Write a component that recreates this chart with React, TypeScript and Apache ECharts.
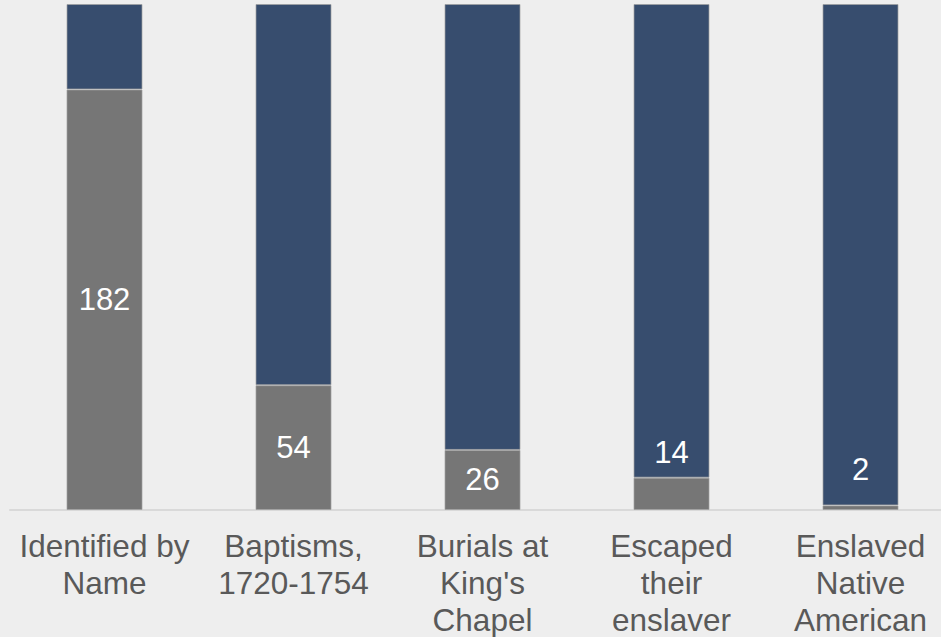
import React, { useEffect, useRef } from "react";
import * as echarts from "echarts";

const categories = [
  "Identified by\nName",
  "Baptisms,\n1720-1754",
  "Burials at\nKing's\nChapel",
  "Escaped\ntheir\nenslaver",
  "Enslaved\nNative\nAmerican",
];
const countValues = [182, 54, 26, 14, 2];
const remainderValues = [37, 165, 193, 205, 217];
const axisMax = 219;

const FONT = "Liberation Sans, Arial, sans-serif";

export default function App() {
  const ref = useRef<HTMLDivElement>(null);
  useEffect(() => {
    document.body.style.margin = "0";
    const chart = echarts.init(ref.current!, null, { renderer: "svg" });
    const labelDist = [0, 0, 0, 10, 20];
    chart.setOption({
      animation: false,
      backgroundColor: "#eeeeee",
      grid: {
        left: 10,
        width: 945,
        top: 4,
        bottom: 127,
        containLabel: false,
        outerBoundsMode: "none",
      },
      xAxis: {
        type: "category",
        data: categories,
        axisLine: { show: true, lineStyle: { color: "#d9d9d9", width: 2 } },
        axisTick: { show: false },
        axisLabel: {
          color: "#595959",
          fontFamily: FONT,
          fontSize: 31.5,
          lineHeight: 37,
          margin: 17,
          interval: 0,
          hideOverlap: false,
        },
      },
      yAxis: {
        type: "value",
        min: 0,
        max: axisMax,
        show: false,
        splitLine: { show: false },
      },
      series: [
        {
          type: "bar",
          stack: "total",
          barWidth: 76,
          z: 3,
          itemStyle: { color: "#767676", borderColor: "rgba(160,160,160,0.7)", borderWidth: 1 },
          data: countValues.map((v, i) => ({
            value: v,
            label:
              i >= 3
                ? { show: true, position: "top", distance: labelDist[i] }
                : { show: true, position: "inside" },
          })),
          label: {
            show: true,
            color: "#ffffff",
            fontFamily: FONT,
            fontSize: 31,
          },
        },
        {
          type: "bar",
          stack: "total",
          barWidth: 76,
          z: 2,
          itemStyle: { color: "#374d6e", borderColor: "rgba(160,160,160,0.7)", borderWidth: 1 },
          data: remainderValues,
        },
      ],
    });
    return () => chart.dispose();
  }, []);
  return <div ref={ref} style={{ width: 941, height: 637 }} />;
}
